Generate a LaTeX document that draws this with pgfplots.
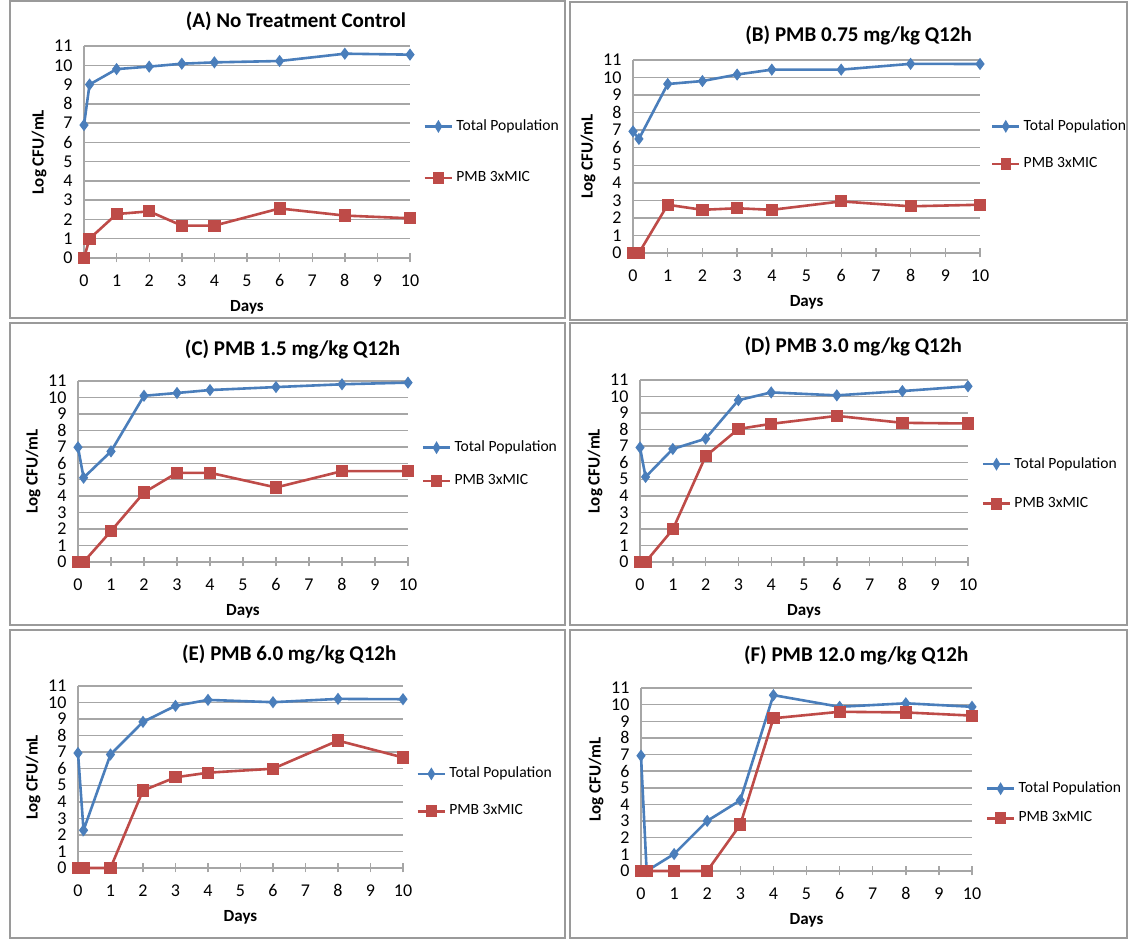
\documentclass[border=0pt]{standalone}
\usepackage{fontspec}
\setmainfont{Carlito}
\usepackage{pgfplots}
\pgfplotsset{compat=1.18}
\definecolor{totblue}{HTML}{4A7EBB}
\definecolor{pmbred}{HTML}{BE4B48}
\definecolor{gridg}{HTML}{A6A6A6}
\definecolor{boxg}{HTML}{9A9A9A}

\pgfplotsset{
  panel/.style={
    scale only axis, anchor=south west,
    xmin=0, xmax=10, ymin=0, ymax=11,
    xtick={0,...,10}, ytick={0,...,11},
    axis lines*=left, axis line style={draw=gridg, line width=0.8pt},
    ymajorgrids, grid style={gridg, line width=0.7pt},
    ytick style={draw=none},
    xtick style={draw=gridg, line width=0.7pt},
    tick align=center, major tick length=4.5pt,
    tick label style={font=\fontsize{9}{10}\selectfont, black},
    xticklabel style={yshift=-2.5pt},
    /pgf/number format/assume math mode=true,
    xlabel={\textbf{Days}}, ylabel={\textbf{Log CFU/mL}},
    label style={font=\fontsize{8.5}{10}\selectfont},
    ylabel style={yshift=-3pt},
    title style={font=\bfseries\fontsize{10.5}{12}\selectfont, at={(0.65,1)}, anchor=south},
    legend cell align=left,
    legend image post style={xscale=0.8},
    clip=false,
  },
  leg/.style 2 args={legend style={at={(1.04,#1)}, anchor=west, draw=none, fill=none,
    inner sep=0pt, row sep=#2, font=\fontsize{7.8}{9.5}\selectfont,
    nodes={inner xsep=1.5pt}}},
  tot/.style={totblue, line width=1.3pt, mark=diamond*, mark size=2pt, mark options={fill=totblue, draw=totblue}},
  pmb/.style={pmbred, line width=1.3pt, mark=square*, mark size=2.4pt, mark options={fill=pmbred, draw=pmbred}},
}

\begin{document}
\begin{tikzpicture}
\useasboundingbox (0,0) rectangle (564pt,472.5pt);
% panel frames
\draw[boxg, line width=0.6pt] (5pt,313.5pt) rectangle (282.5pt,472pt);
\draw[boxg, line width=0.6pt] (285pt,312.5pt) rectangle (563.5pt,471.5pt);
\draw[boxg, line width=0.6pt] (5pt,160pt) rectangle (282.5pt,311pt);
\draw[boxg, line width=0.6pt] (285pt,160pt) rectangle (563.5pt,311pt);
\draw[boxg, line width=0.6pt] (5pt,3.5pt) rectangle (282.5pt,157.5pt);
\draw[boxg, line width=0.6pt] (285pt,3.5pt) rectangle (563.5pt,157.5pt);

% (A)
\begin{axis}[panel, at={(42pt,343.5pt)}, width=163pt, height=106pt,
  title={(A) No Treatment Control}, title style={yshift=-2pt}, leg={0.5}{15pt}]
\addplot[tot] coordinates {(0,6.9) (0.17,9.0) (1,9.8) (2,9.93) (3,10.08) (4,10.15) (6,10.22) (8,10.6) (10,10.55)};
\addplot[pmb] coordinates {(0,0) (0.17,1.0) (1,2.28) (2,2.42) (3,1.68) (4,1.68) (6,2.57) (8,2.2) (10,2.06)};
\legend{Total Population, PMB 3xMIC}
\end{axis}

% (B)
\begin{axis}[panel, at={(316.5pt,346pt)}, width=173.5pt, height=96.5pt,
  title={(B) PMB 0.75 mg/kg Q12h}, title style={yshift=-2pt}, leg={0.56}{8pt},
  legend style={at={(1.03,0.56)}}]
\addplot[tot] coordinates {(0,6.93) (0.17,6.5) (1,9.63) (2,9.8) (3,10.17) (4,10.45) (6,10.45) (8,10.78) (10,10.77)};
\addplot[pmb] coordinates {(0,0) (0.17,0) (1,2.75) (2,2.46) (3,2.55) (4,2.46) (6,2.94) (8,2.66) (10,2.75)};
\legend{Total Population, PMB 3xMIC}
\end{axis}

% (C)
\begin{axis}[panel, at={(39pt,191.5pt)}, width=165pt, height=90.5pt,
  title={(C) PMB 1.5 mg/kg Q12h}, title style={yshift=1.5pt}, leg={0.54}{6pt}]
\addplot[tot] coordinates {(0,6.97) (0.17,5.12) (1,6.72) (2,10.1) (3,10.27) (4,10.45) (6,10.63) (8,10.8) (10,10.9)};
\addplot[pmb] coordinates {(0,0) (0.17,0) (1,1.88) (2,4.22) (3,5.42) (4,5.42) (6,4.53) (8,5.52) (10,5.52)};
\legend{Total Population, PMB 3xMIC}
\end{axis}

% (D)
\begin{axis}[panel, at={(320pt,191.5pt)}, width=164pt, height=91pt,
  title={(D) PMB 3.0 mg/kg Q12h}, title style={yshift=2.5pt}, leg={0.43}{9pt}]
\addplot[tot] coordinates {(0,6.92) (0.17,5.14) (1,6.83) (2,7.45) (3,9.78) (4,10.25) (6,10.07) (8,10.33) (10,10.62)};
\addplot[pmb] coordinates {(0,0) (0.17,0) (1,1.97) (2,6.39) (3,8.04) (4,8.35) (6,8.83) (8,8.41) (10,8.37)};
\legend{Total Population, PMB 3xMIC}
\end{axis}

% (E)
\begin{axis}[panel, at={(39pt,38.5pt)}, width=162.5pt, height=91pt,
  title={(E) PMB 6.0 mg/kg Q12h}, title style={yshift=1.5pt}, leg={0.415}{8pt}]
\addplot[tot] coordinates {(0,6.95) (0.17,2.28) (1,6.86) (2,8.83) (3,9.8) (4,10.16) (6,10.02) (8,10.22) (10,10.2)};
\addplot[pmb] coordinates {(0,0) (0.17,0) (1,0) (2,4.68) (3,5.48) (4,5.76) (6,6.0) (8,7.7) (10,6.68)};
\legend{Total Population, PMB 3xMIC}
\end{axis}

% (F)
\begin{axis}[panel, at={(320.5pt,37pt)}, width=165.5pt, height=91.5pt,
  title={(F) PMB 12.0 mg/kg Q12h}, title style={yshift=2pt}, leg={0.37}{4pt}]
\addplot[tot] coordinates {(0,6.93) (0.17,0) (1,1.02) (2,3.01) (3,4.25) (4,10.57) (6,9.87) (8,10.08) (10,9.87)};
\addplot[pmb] coordinates {(0,0) (0.17,0) (1,0) (2,0) (3,2.79) (4,9.18) (6,9.57) (8,9.53) (10,9.34)};
\legend{Total Population, PMB 3xMIC}
\end{axis}
\end{tikzpicture}
\end{document}
